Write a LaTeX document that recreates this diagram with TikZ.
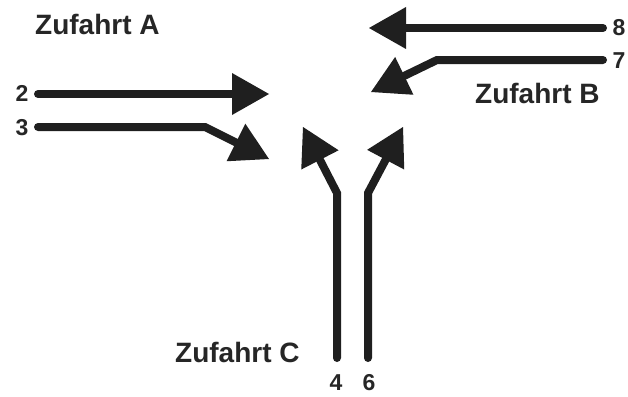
\documentclass[tikz,border=0pt]{standalone}
\usepackage{fontspec}
\setmainfont{Liberation Sans}
\usetikzlibrary{arrows.meta}
\begin{document}
\begin{tikzpicture}[x=1pt,y=-1pt,
  flow/.style={line width=8pt,line cap=round,line join=miter,color=black!88,
    -{Triangle[length=37pt,width=42pt,line width=0pt]}},
  zlabel/.style={anchor=base west,inner sep=0pt,font=\fontsize{28}{30}\selectfont\bfseries,text=black!85},
  num/.style={anchor=base,inner sep=0pt,font=\fontsize{23}{25}\selectfont\bfseries,text=black!85}]
\useasboundingbox (0,0) rectangle (628,396);
% labels
\node[zlabel] (za) at (35,35) {Zufahrt A};
\node[zlabel] (zb) at (475,103) {Zufahrt B};
\node[zlabel] (zc) at (175,362) {Zufahrt C};
\node[num] (n2) at (22,101) {2};
\node[num] (n3) at (22,135) {3};
\node[num] (n8) at (619,36) {8};
\node[num] (n7) at (619,68) {7};
\node[num] (n4) at (336,390) {4};
\node[num] (n6) at (369,390) {6};
% coordinates
\coordinate (s2) at (38,94);   \coordinate (t2) at (269,94);
\coordinate (s3) at (38,127);  \coordinate (b3) at (205,127); \coordinate (t3) at (269,159);
\coordinate (s8) at (603,28);  \coordinate (t8) at (369,28);
\coordinate (s7) at (603,60);  \coordinate (b7) at (437,60);  \coordinate (t7) at (371,92);
\coordinate (s4) at (337,358); \coordinate (b4) at (337,193); \coordinate (t4) at (303,127);
\coordinate (s6) at (368,358); \coordinate (b6) at (368,193); \coordinate (t6) at (403,127);
% arrows
\draw[flow] (s2) -- (t2);
\draw[flow] (s3) -- (b3) -- (t3);
\draw[flow] (s8) -- (t8);
\draw[flow] (s7) -- (b7) -- (t7);
\draw[flow] (s4) -- (b4) -- (t4);
\draw[flow] (s6) -- (b6) -- (t6);
\end{tikzpicture}
\end{document}
